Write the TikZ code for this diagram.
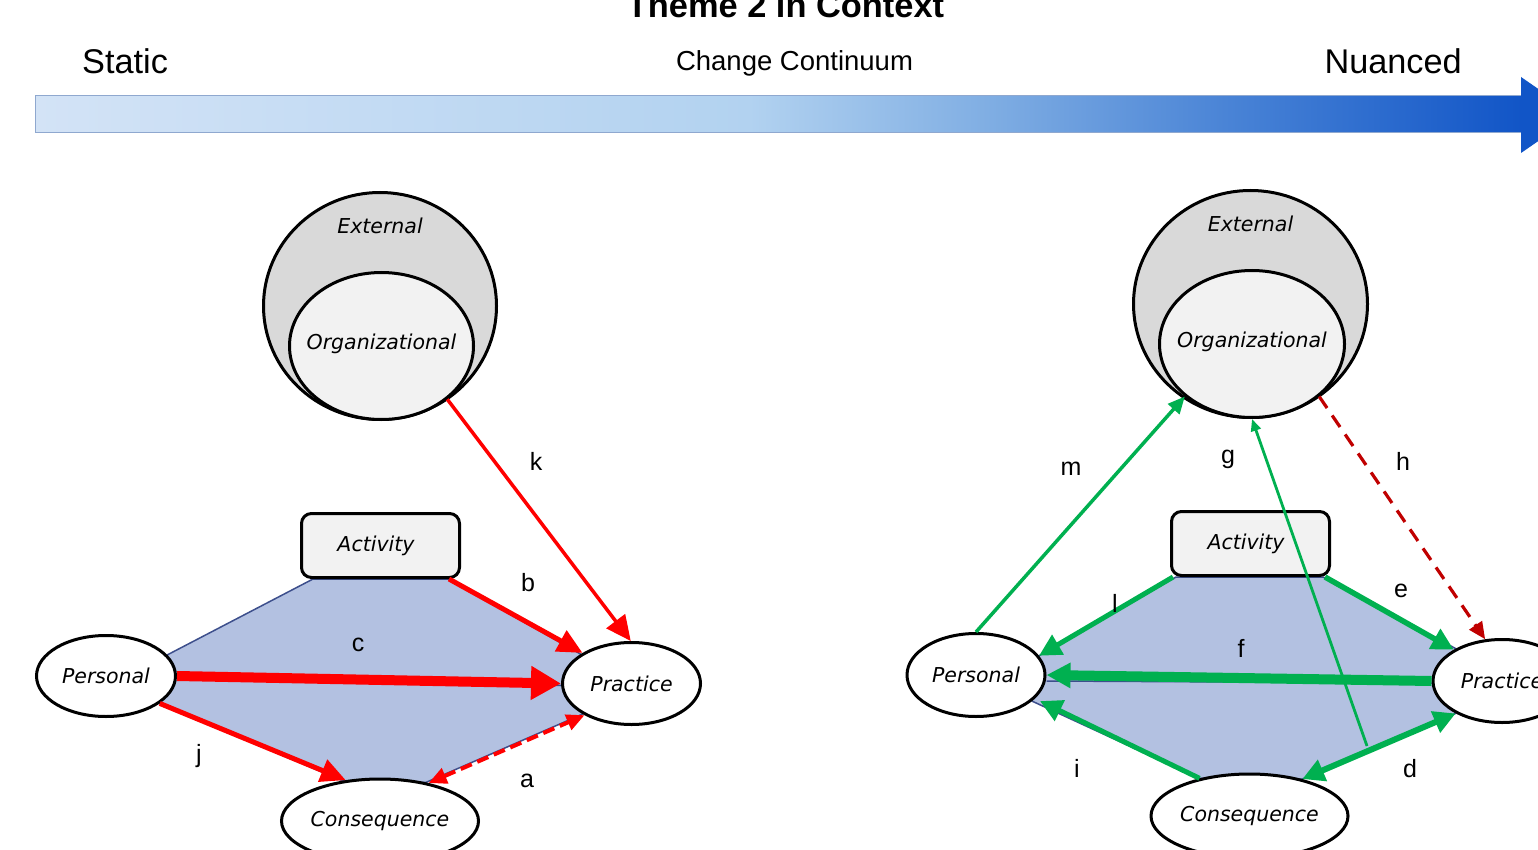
\documentclass[tikz,border=0pt]{standalone}
\usepackage{fontspec}
\setmainfont{Liberation Sans}
\newfontfamily\shapefont{DejaVu Sans}
\usetikzlibrary{shapes.geometric,arrows.meta}

\definecolor{barA}{HTML}{D3E3F6}
\definecolor{barB}{HTML}{B2D2F0}
\definecolor{barC}{HTML}{80AEE3}
\definecolor{barD}{HTML}{4A84D6}
\definecolor{barE}{HTML}{1155C7}
\definecolor{barEdge}{HTML}{8FA8CF}
\definecolor{polyFill}{HTML}{B3C1E1}
\definecolor{polyEdge}{HTML}{3D4F8C}
\definecolor{extFill}{HTML}{D9D9D9}
\definecolor{innerFill}{HTML}{F2F2F2}
\definecolor{arrRed}{HTML}{FF0000}
\definecolor{arrDark}{HTML}{C00000}
\definecolor{arrGreen}{HTML}{00B050}

\pgfdeclarehorizontalshading{continuum}{100bp}{color(0bp)=(barA); color(25bp)=(barA);
  color(49bp)=(barB); color(57bp)=(barC); color(65bp)=(barD); color(75bp)=(barE); color(100bp)=(barE)}

\pgfdeclarelayer{background}
\pgfsetlayers{background,main}

\tikzset{
  shapetext/.style={font=\shapefont\itshape\fontsize{20.5}{24}\selectfont},
  ellnode/.style={ellipse, draw=black, line width=3pt, fill=white, inner sep=0pt, shapetext},
  outerball/.style={ellipse, draw=black, line width=3pt, fill=extFill, inner sep=0pt},
  innerball/.style={ellipse, draw=black, line width=3pt, fill=innerFill, inner sep=0pt},
  ballcaption/.style={shapetext, inner sep=0pt},
  actbox/.style={rectangle, rounded corners=10pt, draw=black, line width=3pt, fill=innerFill,
    minimum width=158pt, minimum height=64pt, inner sep=0pt, shapetext},
  letter/.style={font=\fontsize{25}{30}\selectfont, anchor=base, inner sep=0pt},
  hexfill/.style={fill=polyFill},
  hexedge/.style={draw=polyEdge, line width=1.5pt, line join=round},
  tipL/.style={-{Triangle[length=25pt,width=23pt]}},
  tipXL/.style={-{Triangle[length=30pt,width=32pt]}},
  tipM/.style={-{Triangle[length=22pt,width=22pt]}},
  tipS/.style={-{Triangle[length=17pt,width=15pt]}},
  tipXS/.style={-{Triangle[length=12pt,width=10pt]}},
}

\begin{document}
\begin{tikzpicture}[x=1pt,y=-1pt]
\useasboundingbox (0,0) rectangle (1538,850);
\clip (0,0) rectangle (1538,850);

% ---------- heading and continuum bar ----------
\node[font=\bfseries\fontsize{34.4}{40}\selectfont, anchor=base, inner sep=0pt] (title) at (785.5,18) {Theme 2 in Context};
\node[font=\fontsize{34.3}{40}\selectfont, anchor=base west, inner sep=0pt] (static) at (82,74) {Static};
\node[font=\fontsize{27.5}{32}\selectfont, anchor=base, inner sep=0pt] (contin) at (794.5,71) {Change Continuum};
\node[font=\fontsize{34.3}{40}\selectfont, anchor=base east, inner sep=0pt] (nuanced) at (1462,74) {Nuanced};

\shade[shading=continuum] (35,96) rectangle (1522,133);
\draw[barEdge, line width=1pt] (1522,96) -- (35,96) -- (35,133) -- (1522,133);
\fill[barE] (1521,77) -- (1576,115) -- (1521,153) -- cycle;

% ---------- left panel ----------
\node[outerball, minimum width=233pt, minimum height=227pt] (ext) at (380,306) {};
\node[shapetext, anchor=base, inner sep=0pt] (extlbl) at (380,234) {External};
\node[innerball, minimum width=184pt, minimum height=147pt] (org) at (381.5,346) {};
\node[ballcaption] (orglbl) at (381.5,344) {Organizational};
\node[actbox] (act) at (380.5,545.5) {\hspace*{-9pt}Activity};
\node[ellnode, minimum width=139pt, minimum height=81pt] (pers) at (106,676) {Personal};
\node[ellnode, minimum width=138pt, minimum height=82pt] (prac) at (631.5,683.5) {Practice};
\node[ellnode, minimum width=197pt, minimum height=84pt] (cons) at (380,821) {Consequence};

\begin{pgfonlayer}{background}
  \fill[hexfill] ([xshift=13pt]act.south west) -- ([xshift=-13pt]act.south east) -- (prac.150)
    -- (prac.212) -- (cons.40) -- (cons.133) -- (pers.-27) -- (pers.19) -- cycle;
  \draw[hexedge] ([xshift=13pt]act.south west) -- ([xshift=-13pt]act.south east) -- (prac.150)
    -- (prac.212) -- (cons.40) -- (cons.133) -- (pers.-27) -- (pers.19) -- cycle;
  \draw[hexedge] (pers.east) -- ([yshift=-2pt]prac.west);
\end{pgfonlayer}

\draw[arrRed, line width=3.5pt, tipL] (org.-39) -- (prac.91);
\draw[arrRed, line width=5pt, tipL] ([xshift=-12pt]act.south east) -- (prac.148);
\draw[arrRed, line width=10pt, tipXL] (pers.east) -- (prac.west);
\draw[arrRed, line width=5pt, tipL] (pers.-27) -- (cons.130);
\draw[arrRed, line width=4pt, dash pattern=on 12pt off 6pt,
  {Triangle[length=18pt,width=16pt]}-{Triangle[length=18pt,width=16pt]}] (cons.38) -- (prac.214);

\node[letter] (lk) at (536,470) {k};
\node[letter] (lb) at (528,591) {b};
\node[letter] (lc) at (358,651) {c};
\node[letter] (lj) at (199,762) {j};
\node[letter] (la) at (527,787) {a};

% ---------- right panel ----------
\node[outerball, minimum width=234pt, minimum height=227pt] (ext2) at (1250.5,304) {};
\node[shapetext, anchor=base, inner sep=0pt] (extlbl2) at (1250.5,232) {External};
\node[innerball, minimum width=185pt, minimum height=147pt] (org2) at (1252,344) {};
\node[ballcaption] (orglbl2) at (1252,342) {Organizational};
\node[actbox] (act2) at (1250.5,543.5) {\hspace*{-9pt}Activity};
\node[ellnode, minimum width=138pt, minimum height=83pt] (pers2) at (976,675) {Personal};
\node[ellnode, minimum width=138pt, minimum height=83pt] (prac2) at (1502,681) {Practice};
\node[ellnode, minimum width=197pt, minimum height=84pt] (cons2) at (1249.5,816) {Consequence};
\coordinate (gfoot) at (1367,746);

\begin{pgfonlayer}{background}
  \fill[hexfill] ([xshift=6pt]act2.south west) -- ([xshift=-8pt]act2.south east) -- (prac2.145)
    -- (prac2.215) -- (cons2.35) -- (cons2.143) -- (pers2.-25) -- (pers2.17) -- cycle;
  \draw[hexedge] ([xshift=6pt]act2.south west) -- ([xshift=-8pt]act2.south east) -- (prac2.145)
    -- (prac2.215) -- (cons2.35) -- (cons2.143) -- (pers2.-25) -- (pers2.17) -- cycle;
  \draw[hexedge] ([yshift=-6pt]pers2.east) -- ([yshift=-2pt]prac2.west);
\end{pgfonlayer}

\draw[arrGreen, line width=3.5pt, tipS] (pers2.north) -- (org2.218);
\draw[arrGreen, line width=2.8pt, tipXS] (gfoot) -- (org2.south);
\draw[arrDark, line width=3.2pt, dash pattern=on 14pt off 9pt, tipS] (org2.-38) -- (prac2.112);
\draw[arrGreen, line width=5.5pt, tipM] ([xshift=-6pt]act2.south east) -- (prac2.147);
\draw[arrGreen, line width=5pt, tipM] ([xshift=3pt]act2.south west) -- (pers2.17);
\draw[arrGreen, line width=10pt, -{Triangle[length=24pt,width=24pt]}] (prac2.west) -- (pers2.east);
\draw[arrGreen, line width=5pt, tipM] (cons2.143) -- ([xshift=8pt]pers2.-25);
\draw[arrGreen, line width=6pt, {Triangle[length=22pt,width=22pt]}-{Triangle[length=22pt,width=22pt]}] (cons2.35) -- (prac2.215);

\node[letter] (lm) at (1071,475) {m};
\node[letter] (lg) at (1228,463) {g};
\node[letter] (lh) at (1403,470) {h};
\node[letter] (le) at (1401,597) {e};
\node[letter] (ll) at (1115,612) {l};
\node[letter] (lf) at (1241,657) {f};
\node[letter] (li) at (1077,777) {i};
\node[letter] (ld) at (1410,777) {d};
\end{tikzpicture}
\end{document}
